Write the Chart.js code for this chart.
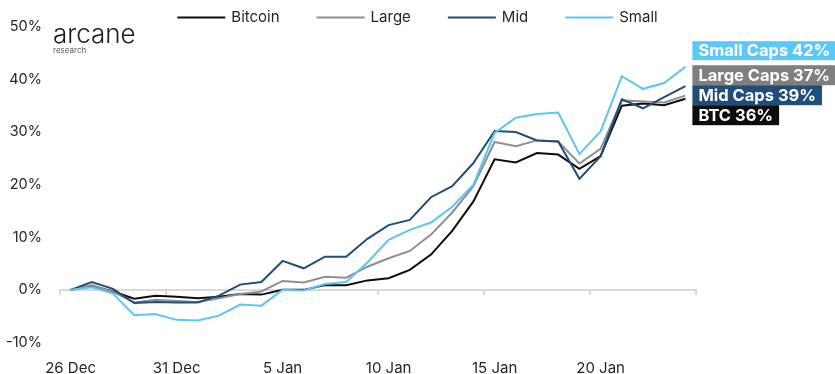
<!DOCTYPE html>
<html>
<head>
<meta charset="utf-8">
<script src="https://cdn.jsdelivr.net/npm/chart.js@4.4.0/dist/chart.umd.min.js"></script>
<style>
  body { margin: 0; background: #fff; }
  #wrap { width: 835px; height: 374px; position: relative; }
</style>
</head>
<body>
<div id="wrap"><canvas id="perfChart"></canvas></div>
<script>
const dates = [
  '26 Dec', '27 Dec', '28 Dec', '29 Dec', '30 Dec', '31 Dec', '1 Jan', '2 Jan', '3 Jan', '4 Jan',
  '5 Jan', '6 Jan', '7 Jan', '8 Jan', '9 Jan', '10 Jan', '11 Jan', '12 Jan', '13 Jan', '14 Jan',
  '15 Jan', '16 Jan', '17 Jan', '18 Jan', '19 Jan', '20 Jan', '21 Jan', '22 Jan', '23 Jan', '24 Jan'
];

// cumulative return since 26 Dec, in %
const btc = [0, 0.8, -0.3, -1.7, -1.1, -1.3, -1.6, -1.3, -0.8, -0.9, 0.0, 0.0, 0.9, 0.9, 1.8,
  2.2, 3.8, 6.7, 11.2, 16.8, 24.8, 24.2, 26.0, 25.7, 23.0, 25.4, 35.0, 35.4, 35.1, 36.3];
const large = [0, 0.9, -0.4, -2.4, -1.9, -2.1, -2.3, -1.6, -0.8, -0.3, 1.7, 1.4, 2.5, 2.3, 4.4,
  6.0, 7.4, 10.5, 14.7, 19.7, 28.1, 27.3, 28.4, 28.2, 24.0, 26.8, 36.0, 35.8, 35.6, 36.9];
const mid = [0, 1.5, 0.2, -2.5, -2.3, -2.4, -2.4, -1.1, 1.0, 1.5, 5.5, 4.1, 6.3, 6.3, 9.7,
  12.3, 13.3, 17.6, 19.7, 24.1, 30.2, 30.0, 28.4, 28.2, 21.1, 25.4, 36.2, 34.5, 36.6, 38.7];
const small = [0, 0.5, -0.7, -4.8, -4.6, -5.7, -5.8, -4.9, -2.8, -3.0, 0.0, -0.1, 1.1, 1.5, 5.2,
  9.5, 11.4, 12.8, 15.8, 20.0, 29.8, 32.7, 33.4, 33.7, 25.8, 30.1, 40.6, 38.2, 39.3, 42.4];

const seriesNames = ['Bitcoin', 'Large', 'Mid', 'Small'];
const capNames = ['BTC', 'Large Caps', 'Mid Caps', 'Small Caps'];
const lineColors = ['#0d0d0d', '#8c8f94', '#1f4e79', '#5bc6f2'];
const boxColors = ['#0d0d0d', '#7f7f7f', '#1f4e79', '#5bc8f5'];
const boxStack = [3, 1, 2, 0]; // top to bottom: Small, Large, Mid, BTC

const FONT = 'Inter, "Noto Sans", sans-serif';
const TEXT = '#262626';

// legend drawn across the whole width, over the top of the plot
const topLegend = {
  id: 'topLegend',
  afterDraw(chart) {
    const ctx = chart.ctx;
    const lineLen = 48, gap = 6, spacing = 37;
    ctx.save();
    ctx.font = '15px ' + FONT;
    const widths = seriesNames.map(n => lineLen + gap + ctx.measureText(n).width);
    const total = widths.reduce((a, b) => a + b, 0) + spacing * (widths.length - 1);
    let x = (chart.width - total) / 2;
    const y = 17.5;
    seriesNames.forEach((name, i) => {
      ctx.strokeStyle = lineColors[i];
      ctx.lineWidth = 2;
      ctx.beginPath();
      ctx.moveTo(x, y);
      ctx.lineTo(x + lineLen, y);
      ctx.stroke();
      ctx.fillStyle = TEXT;
      ctx.textBaseline = 'middle';
      ctx.fillText(name, x + lineLen + gap, y);
      x += widths[i] + spacing;
    });
    ctx.restore();
  }
};

const logo = {
  id: 'logo',
  afterDraw(chart) {
    const ctx = chart.ctx;
    ctx.save();
    ctx.fillStyle = '#1b1b1b';
    ctx.textBaseline = 'alphabetic';
    ctx.font = '300 26px ' + FONT;
    ctx.fillText('arcane', 53, 43);
    ctx.fillStyle = '#5a5a5a';
    ctx.font = '8px ' + FONT;
    ctx.fillText('research', 53, 53);
    ctx.restore();
  }
};

// coloured value boxes to the right of the last points
const endLabels = {
  id: 'endLabels',
  afterDraw(chart) {
    const ctx = chart.ctx;
    const area = chart.chartArea;
    const x0 = chart.scales.x.getPixelForValue(dates.length - 1) + 7;
    ctx.save();
    ctx.font = 'bold 16.5px ' + FONT;
    ctx.textBaseline = 'middle';
    boxStack.forEach((idx, k) => {
      const data = chart.data.datasets[idx].data;
      const text = capNames[idx] + ' ' + Math.round(data[data.length - 1]) + '%';
      const w = ctx.measureText(text).width + 12;
      const top = k === 0 ? area.top + 14.5 : area.top + 38.5 + (k - 1) * 20;
      const h = k === 0 ? 19 : 20;
      ctx.fillStyle = boxColors[idx];
      ctx.fillRect(x0, top, w, h);
      ctx.fillStyle = '#ffffff';
      ctx.fillText(text, x0 + 6, top + h / 2 + 0.5);
    });
    ctx.restore();
  }
};

const series = [btc, large, mid, small];

new Chart(document.getElementById('perfChart'), {
  type: 'line',
  data: {
    labels: dates,
    datasets: series.map((vals, i) => ({
      label: seriesNames[i],
      data: vals,
      borderColor: lineColors[i],
      backgroundColor: lineColors[i],
      borderWidth: 2,
      pointRadius: 0,
      tension: 0,
      order: series.length - i
    }))
  },
  options: {
    responsive: true,
    maintainAspectRatio: false,
    animation: false,
    layout: { padding: { top: 24.5, right: 139, left: 0, bottom: 0 } },
    plugins: {
      legend: { display: false },
      tooltip: { enabled: false }
    },
    scales: {
      x: {
        offset: true,
        grid: { display: false, offset: true },
        border: { display: false },
        ticks: {
          autoSkip: false,
          maxRotation: 0,
          padding: 9,
          color: TEXT,
          font: { family: FONT, size: 15 },
          callback: (v, i) => (i % 5 === 0 ? dates[i] : '')
        },
        afterFit(scale) { scale.height = 31.5; }
      },
      // zero line with a tick every five days
      x0: {
        type: 'category',
        position: { y: 0 },
        offset: true,
        ticks: { display: false },
        grid: {
          offset: true,
          drawOnChartArea: false,
          drawTicks: true,
          tickLength: 4,
          lineWidth: 2,
          color: c => (c.index === undefined || c.index % 5 === 0 ? '#d9d9d9' : 'rgba(0,0,0,0)')
        },
        border: { display: true, color: '#d9d9d9', width: 2 }
      },
      y: {
        min: -10,
        max: 50,
        grid: { display: false, drawTicks: false },
        border: { display: false },
        ticks: {
          stepSize: 10,
          padding: 18,
          color: TEXT,
          font: { family: FONT, size: 14.5 },
          callback: v => v + '%'
        },
        afterFit(scale) { scale.width = 60; }
      }
    }
  },
  plugins: [topLegend, logo, endLabels]
});
</script>
</body>
</html>
